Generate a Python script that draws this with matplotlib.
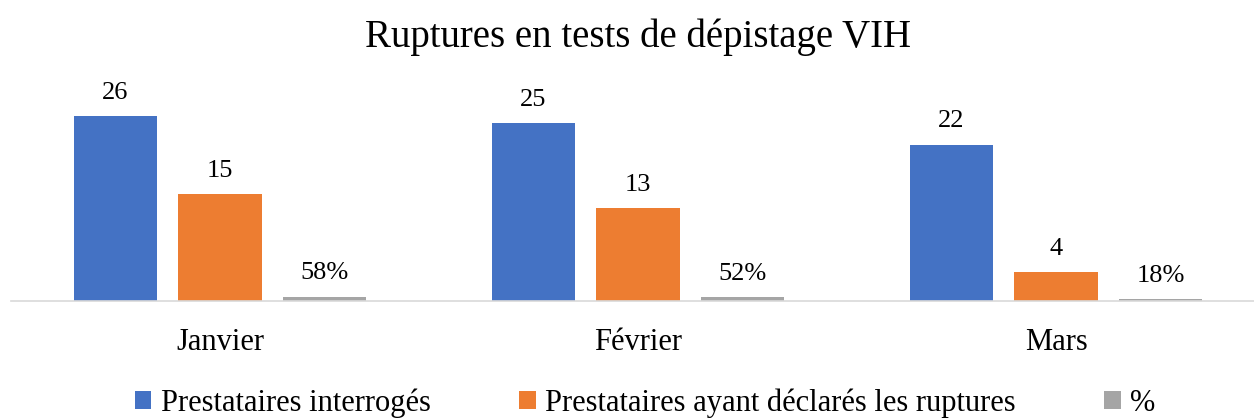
import matplotlib
matplotlib.use('agg')
import matplotlib.pyplot as plt
import numpy as np

months = ['Janvier', 'Février', 'Mars']
interroges = [26, 25, 22]
declares = [15, 13, 4]
pct = [0.58, 0.52, 0.18]
series_names = ['Prestataires interrogés', 'Prestataires ayant déclarés les ruptures', '%']
colors = ['#4472C4', '#ED7D31', '#A5A5A5']

plt.rcParams['font.family'] = ['Liberation Serif', 'DejaVu Serif']

W, H = 1254, 418
fig = plt.figure(figsize=(W / 100, H / 100), dpi=100)
# axes placed in pixels: left 11, baseline at y=300.7, 30 units = 213 px
ax = fig.add_axes([11 / W, (H - 300.7) / H, 1254 / W, 213 / H])
ax.set_xlim(-0.5, 2.5)
ax.set_ylim(0, 30)

x = np.arange(len(months))
w = 0.2
b1 = ax.bar(x - 0.25, interroges, w, color=colors[0], label=series_names[0])
b2 = ax.bar(x, declares, w, color=colors[1], label=series_names[1])
b3 = ax.bar(x + 0.25, pct, w, color=colors[2], label=series_names[2])

for bars, vals in [(b1, interroges), (b2, declares)]:
    for r, v in zip(bars, vals):
        ax.annotate(str(v), (r.get_x() + r.get_width() / 2, r.get_height()),
                    xytext=(0, 9), textcoords='offset points',
                    ha='center', va='bottom', fontsize=19)
for r, v in zip(b3, pct):
    ax.annotate('%d%%' % round(v * 100), (r.get_x() + r.get_width() / 2, r.get_height()),
                xytext=(0, 9), textcoords='offset points',
                ha='center', va='bottom', fontsize=19)

for s in ['top', 'right', 'left']:
    ax.spines[s].set_visible(False)
ax.spines['bottom'].set_color('#D9D9D9')
ax.spines['bottom'].set_linewidth(1.2)
ax.set_yticks([])
ax.set_xticks(x)
ax.set_xticklabels(months, fontsize=22)
ax.tick_params(axis='x', length=0, pad=20)

fig.text(638 / W, 1 - 37 / H, 'Ruptures en tests de dépistage VIH',
         ha='center', va='center', fontsize=28)

fig.legend(handles=[b1, b2, b3], loc='center', bbox_to_anchor=(645 / W, 1 - 403 / H),
           ncol=3, frameon=False, fontsize=22, handlelength=0.55, handleheight=0.55,
           handletextpad=0.3, columnspacing=2.9, borderaxespad=0)

fig.savefig('out.png', dpi=100)
